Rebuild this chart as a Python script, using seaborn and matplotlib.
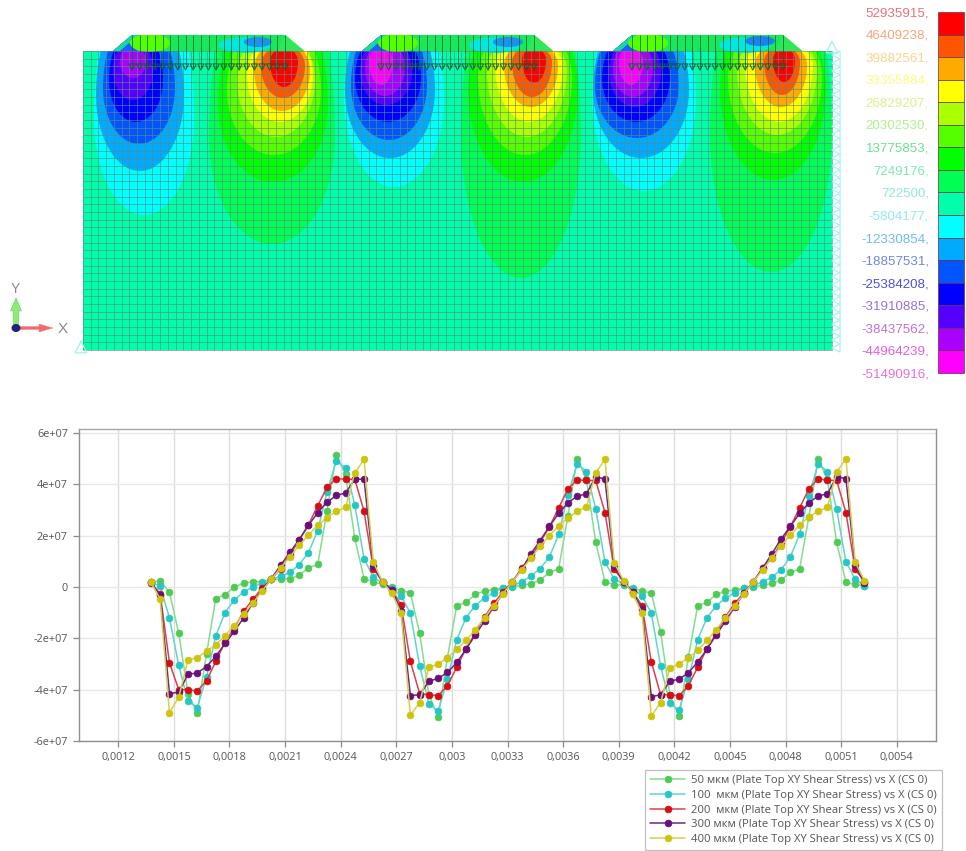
import numpy as np
import pandas as pd
import matplotlib
matplotlib.use("Agg")
import matplotlib.pyplot as plt
from matplotlib.patches import Ellipse, Polygon, Rectangle, FancyArrow
import seaborn as sns

# ---------- lower chart data ----------
x_um = [1376,1426,1476,1526,1576,1626,1676,1726,1776,1826,1876,1926,1976,2026,2076,2126,2176,2226,2276,2326,2376,2426,2476,2526,2576,2626,
        2676,2726,2776,2826,2876,2926,2976,3026,3076,3126,3176,3226,3276,3326,3376,3426,3476,3526,3576,3626,3676,3726,3776,3826,3876,3926,
        3976,4026,4076,4126,4176,4226,4276,4326,4376,4426,4476,4526,4576,4626,4676,4726,4776,4826,4876,4926,4976,5026,5076,5126,5176,5226]
s50 = [.18,.25,-.2,-1.8,-4.15,-4.9,-2.6,-.45,-.3,0,.15,.2,.2,.3,.3,.33,.45,.75,.88,2.95,5.15,4.4,1.9,.33,.2,.1,
       0,-.14,-.23,-1.8,-4.2,-5.05,-2.75,-.73,-.6,-.29,-.15,-.1,-.03,0,.07,.13,.27,.57,.7,2.77,5.0,4.2,1.75,.2,.09,.07,
       -.05,-.16,-.23,-1.76,-4.2,-5.04,-2.73,-.73,-.6,-.29,-.16,-.12,-.04,.01,.07,.14,.27,.57,.7,2.73,5.0,4.2,1.74,.18,.1,.05]
s100 = [.18,.03,-1.2,-3.05,-4.45,-4.7,-3.5,-1.9,-1.0,-.5,-.2,0,.17,.3,.42,.57,.87,1.34,2.2,3.7,4.9,4.65,3.2,1.1,.38,.15,
        -.05,-.35,-1.02,-3.07,-4.55,-4.83,-3.6,-2.06,-1.2,-.73,-.42,-.22,-.03,.04,.2,.42,.72,1.17,2.05,3.6,4.8,4.5,3.05,.98,.31,.12,
        -.07,-.35,-1.02,-3.07,-4.53,-4.8,-3.6,-2.06,-1.2,-.73,-.43,-.22,-.03,.04,.2,.38,.67,1.17,2.05,3.56,4.8,4.5,3.02,.98,.31,.05]
s200 = [.18,-.27,-2.95,-4.0,-4.0,-4.05,-3.65,-2.9,-2.15,-1.6,-.95,-.48,-.05,.3,.72,1.25,1.83,2.42,3.17,3.88,4.22,4.2,4.2,2.95,.72,.2,
        -.12,-.7,-2.9,-4.15,-4.2,-4.23,-3.84,-3.13,-2.4,-1.8,-1.16,-.64,-.18,.2,.73,1.15,1.74,2.34,3.08,3.82,4.18,4.15,4.15,2.9,.69,.2,
        -.18,-.73,-2.92,-4.19,-4.2,-4.24,-3.84,-3.13,-2.4,-1.81,-1.16,-.64,-.22,.2,.73,1.12,1.71,2.34,3.08,3.82,4.22,4.16,4.15,2.9,.69,.2]
s300 = [.15,-.3,-4.15,-4.1,-3.4,-3.35,-3.1,-2.7,-2.2,-1.73,-1.2,-.63,-.1,.33,.85,1.35,1.85,2.4,2.9,3.3,3.57,3.66,4.2,4.2,.8,.2,
        -.1,-.93,-4.23,-4.2,-3.67,-3.56,-3.33,-2.94,-2.43,-1.87,-1.33,-.77,-.25,.2,.69,1.29,1.81,2.36,2.87,3.28,3.54,3.63,4.3,4.2,.8,.2,
        -.2,-.87,-4.27,-4.2,-3.67,-3.59,-3.34,-2.92,-2.43,-1.87,-1.33,-.77,-.25,.2,.73,1.29,1.87,2.36,2.87,3.28,3.55,3.63,4.3,4.22,.86,.14]
s400 = [.18,-.47,-4.9,-4.3,-2.85,-2.75,-2.5,-2.25,-1.9,-1.5,-1.05,-.63,-.15,.3,.75,1.18,1.62,2.03,2.4,2.7,2.95,3.1,4.45,4.97,.97,.2,
        -.25,-1.02,-5.0,-4.5,-3.13,-3.0,-2.75,-2.43,-2.08,-1.67,-1.2,-.73,-.26,.2,.67,1.12,1.58,2.0,2.39,2.69,2.95,3.12,4.45,4.97,.95,.25,
        -.27,-1.02,-5.03,-4.5,-3.17,-3.0,-2.75,-2.47,-2.08,-1.66,-1.2,-.73,-.26,.2,.67,1.12,1.6,2.02,2.41,2.73,2.95,3.1,4.48,5.0,.97,.25]
series_names = ["50 мкм (Plate Top XY Shear Stress) vs X (CS 0)",
                "100  мкм (Plate Top XY Shear Stress) vs X (CS 0)",
                "200  мкм (Plate Top XY Shear Stress) vs X (CS 0)",
                "300 мкм (Plate Top XY Shear Stress) vs X (CS 0)",
                "400 мкм (Plate Top XY Shear Stress) vs X (CS 0)"]
series_values = [s50, s100, s200, s300, s400]
marker_colors = ["#4fca55", "#25c6c6", "#d80d12", "#6c0f78", "#cfc40c"]
line_colors = ["#86dc8e", "#5fd4d0", "#d8424c", "#6a2a80", "#d6cf50"]
xtick_vals = [0.0012,0.0015,0.0018,0.0021,0.0024,0.0027,0.003,0.0033,0.0036,0.0039,0.0042,0.0045,0.0048,0.0051,0.0054]
xtick_text = ["0,0012","0,0015","0,0018","0,0021","0,0024","0,0027","0,003","0,0033","0,0036","0,0039","0,0042","0,0045","0,0048","0,0051","0,0054"]
ytick_vals = [-6e7,-4e7,-2e7,0,2e7,4e7,6e7]
ytick_text = ["-6e+07","-4e+07","-2e+07","0","2e+07","4e+07","6e+07"]

# ---------- upper plot data: contour bands ----------
level_values = ["52935915,","46409238,","39882561,","33355884,","26829207,","20302530,","13775853,","7249176,","722500,",
                "-5804177,","-12330854,","-18857531,","-25384208,","-31910885,","-38437562,","-44964239,","-51490916,"]
level_text_colors = ["#e8707a","#f4a67c","#f8d48c","#fbfb80","#d9f08c","#aef08c","#6fe08e","#80e8b8","#8ce8d8",
                     "#90e8f2","#6cbcf0","#6e88e0","#4f50d8","#9a70e2","#c070e2","#e25ee2","#e470e0"]
band_colors = ["#ff0000","#ff5500","#ffaa00","#ffff00","#aaff00","#55ff00","#00ff00","#00ff55","#00ffaa",
               "#00ffff","#00aaff","#0055ff","#0000ff","#5500ff","#aa00ff","#ff00ff"]
# each band: (band colour index, centre x, widest y, half width, depth below widest y) in screen-like model units
neg1 = [(9,144,120,50,95),(10,140,95,44,76),(11,139,88,36,56),(12,136,80,27,42),(13,133,70,20,30),(14,133,62,13,16)]
neg2 = [(9,394,100,50,87),(10,390,90,45,68),(11,389,85,38,55),(12,388,78,33,44),(13,386,72,26,33),(14,385,68,20,28),(15,381,62,12,23)]
neg3 = [(9,644,100,52,91),(10,641,90,48,68),(11,637,85,42,53),(12,636,78,34,44),(13,635,72,26,35),(14,633,68,20,29),(15,631,62,12,23)]
pos1 = [(7,272,137,63,107),(6,273,105,55,77),(5,274,90,47,65),(4,276,80,39,57),(3,280,75,33,47),(2,282,70,28,41),(1,283,66,22,32),(0,284,62,14,25)]
pos2 = [(7,521,135,60,143),(6,523,90,55,92),(5,525,78,47,77),(4,527,70,40,67),(3,529,65,34,57),(2,531,65,27,42),(1,532,62,20,35),(0,534,60,12,23)]
pos3 = [(7,771,135,61,137),(6,773,90,53,90),(5,775,78,47,75),(4,777,70,40,65),(3,779,65,34,57),(2,781,65,26,42),(1,782,62,18,33),(0,784,60,11,22)]
lobes = [neg1, neg2, neg3, pos1, pos2, pos3]
top_stretch = [2.4, 2.2, 2.0, 1.8, 1.7, 1.55, 1.4, 1.3]
plate_lefts = [132, 381, 632]
plate_rights = [285, 534, 783]
plate_patches = [(0,150,43,20,9,"#55ff00"),(0,245,45,26,8,"#00e8e0"),(0,258,42,14,5,"#1e90f0"),
                 (1,398,43,20,9,"#55ff00"),(1,495,45,26,8,"#00e8e0"),(1,508,42,15,5,"#1e90f0"),
                 (2,648,43,20,9,"#55ff00"),(2,745,45,26,8,"#00e8e0"),(2,760,41,15,5,"#1e80f0")]

sns.set_style("white")
plt.rcParams["font.family"] = ["Open Sans", "DejaVu Sans"]

fig = plt.figure(figsize=(9.66, 8.51), dpi=100)
W, H = 966, 851

# ---------- upper panel ----------
top = fig.add_axes([0, 0, 1, 1])
top.set_xlim(0, W); top.set_ylim(H, 0); top.axis("off")

def egg(cx, cy, rx, down, up):
    t = np.linspace(0, 2*np.pi, 121)
    dy = np.sin(t)
    return np.column_stack([cx + rx*np.cos(t), cy + np.where(dy > 0, down, up)*dy])

outline = [(83,51)]
for l, r in zip(plate_lefts, plate_rights):
    outline += [(l-19,51),(l,35),(r,35),(r+19,51)]
outline += [(832,51),(832,350),(83,350)]
clip = Polygon(outline, closed=True, transform=top.transData, fc="none", ec="none")
top.add_patch(clip)
top.add_patch(Polygon([(83,51),(832,51),(832,350),(83,350)], fc=band_colors[8], ec="none", zorder=1))
for lobe in lobes:
    for j, (idx, cx, cy, rx, down) in enumerate(lobe):
        up = max(cy - 51, 8) * top_stretch[j]
        e = Polygon(egg(cx, cy, rx, down, up), fc=band_colors[idx], ec="none", zorder=2)
        top.add_patch(e); e.set_clip_path(clip)
# plates
for l, r in zip(plate_lefts, plate_rights):
    top.add_patch(Polygon([(l-19,51),(l,35),(r,35),(r+19,51)], fc="#18e85a", ec="none", zorder=3))
    top.add_patch(Polygon([(l-19,51),(l,35),(l+6,35),(l+8,51)], fc="#18d8a0", ec="none", zorder=3.1))
    top.add_patch(Polygon([(l-12,51),(l-3,43),(l+6,51)], fc="#1a60ff", ec="none", zorder=3.2))
    top.add_patch(Polygon([(r-8,51),(r,35),(r+19,51)], fc="#2ee85a", ec="none", zorder=3.1))
for p, cx, cy, rx, ry, col in plate_patches:
    e = Ellipse((cx, cy), 2*rx, 2*ry, fc=col, ec="none", zorder=3.3)
    top.add_patch(e); e.set_clip_path(clip)
# mesh
mesh_x = np.linspace(83, 832, 98)
mesh_y = np.linspace(51, 350, 40)
top.vlines(mesh_x, 51, 350, color="#5f8a7c", lw=0.55, alpha=0.8, zorder=4)
top.hlines(mesh_y, 83, 832, color="#5f8a7c", lw=0.55, alpha=0.8, zorder=4)
# load arrows
for l, r in zip(plate_lefts, plate_rights):
    ax_ = np.linspace(l, r, 21)
    top.vlines(ax_, 35, 68, color="#0b6b32", lw=0.7, alpha=0.8, zorder=5)
    top.scatter(ax_, np.full_like(ax_, 67.0), marker="v", s=20, facecolor="none",
                edgecolor="#0b5b2c", lw=0.8, alpha=0.85, zorder=5)
# boundary chevrons
chev_y = np.linspace(55, 348, 38)
top.scatter(np.full_like(chev_y, 836.0), chev_y, marker="<", s=34, facecolor="none",
            edgecolor="#9ff2f2", lw=0.8, zorder=5)
top.scatter([832, 81], [47, 347], marker="^", s=70, facecolor="none", edgecolor="#9ff2f2", lw=0.9, zorder=5)

# axes triad
top.add_patch(FancyArrow(16, 328, 0, -30, width=5, head_width=11, head_length=13,
                         length_includes_head=True, fc="#88ee70", ec="#70c070", lw=0.4, zorder=6))
top.add_patch(FancyArrow(16, 328, 37, 0, width=3, head_width=8, head_length=14,
                         length_includes_head=True, fc="#f06c6c", ec="#f08080", lw=0.3, zorder=6))
top.add_patch(Ellipse((16, 328), 9, 8, fc="#23237a", ec="none", zorder=7))
top.text(15, 289, "Y", color="#8a8a8a", fontsize=10, ha="center", va="center", family="Liberation Sans")
top.text(63, 329, "X", color="#8a8a8a", fontsize=11, ha="center", va="center", family="Liberation Sans")

# colour key
key_top, key_step = 12, 22.56
for i, c in enumerate(band_colors):
    top.add_patch(Rectangle((937.5, key_top+i*key_step), 26.5, key_step, fc=c, ec="#6a3040", lw=0.5, zorder=6))
for i, (t, c) in enumerate(zip(level_values, level_text_colors)):
    top.text(929, 13+i*22.6, t, color=c, fontsize=9.6, ha="right", va="center", family="Liberation Sans")

# ---------- lower chart ----------
ax = fig.add_axes([79/W, 1-741/H, 857/W, 312/H])
df = pd.DataFrame({
    "x": np.tile(np.array(x_um)*1e-6, 5),
    "y": np.concatenate(series_values)*1e7,
    "series": np.repeat(series_names, len(x_um)),
})
sns.lineplot(data=df, x="x", y="y", hue="series", hue_order=series_names, palette=line_colors,
             estimator=None, sort=False, errorbar=None, marker="o", markersize=4.9,
             linewidth=1.1, legend=False, ax=ax)
lines = [l for l in ax.get_lines() if len(l.get_xdata()) == len(x_um)]
for ln, mc, lc in zip(lines, marker_colors, line_colors):
    ln.set_color(lc)
    ln.set_markerfacecolor(mc)
    ln.set_markeredgecolor(mc)
    ln.set_markeredgewidth(0.5)
ax.set_xlim(0.000988, 0.005612)
ax.set_ylim(-6e7, 6.156e7)
ax.set_xticks(xtick_vals); ax.set_xticklabels(xtick_text)
ax.set_yticks(ytick_vals); ax.set_yticklabels(ytick_text)
ax.set_xlabel(""); ax.set_ylabel("")
ax.grid(True, axis="x", color="#dcdcdc", lw=1.0)
ax.grid(True, axis="y", color="#e8e8e8", lw=1.0)
ax.set_axisbelow(True)
ax.tick_params(axis="both", length=4, width=0.9, color="#8a8a8a", labelcolor="#555555", labelsize=7.8, pad=4, bottom=True, left=True)
for sp in ax.spines.values():
    sp.set_color("#909090"); sp.set_linewidth(1.0); sp.set_visible(True)
ax.spines["top"].set_color("#a8a8a8")

leg = fig.legend(lines, series_names, loc="upper left", bbox_to_anchor=(645/W, 1-770/H), bbox_transform=fig.transFigure,
                 borderaxespad=0, frameon=True, fancybox=False, edgecolor="#c0c0c0", framealpha=1, fontsize=8.15,
                 handlelength=3.1, handletextpad=0.45, labelspacing=0.32, borderpad=0.47, labelcolor="#555555")
leg.get_frame().set_linewidth(0.9)

fig.savefig("out.png", dpi=100)
